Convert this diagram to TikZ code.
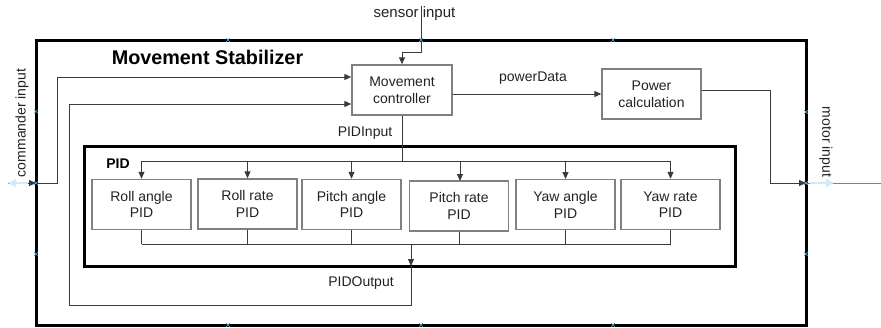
\documentclass[tikz,border=0pt]{standalone}
\usepackage{fontspec}
\setmainfont{Liberation Sans}
\usetikzlibrary{arrows.meta}
\definecolor{boxgray}{HTML}{808080}
\definecolor{linegray}{HTML}{3A3A3A}
\definecolor{txt}{HTML}{222222}
\definecolor{mark}{HTML}{4AA3D6}
\definecolor{ghost}{HTML}{D2EAF7}
\tikzset{
  blk/.style={draw=boxgray, line width=1.4pt, fill=white, inner sep=0pt, align=center,
    text=txt, font=\fontsize{14}{16.5}\selectfont, minimum width=99pt, minimum height=50pt},
  frame/.style={draw=black, line width=3pt, inner sep=0pt},
  conn/.style={draw=linegray, line width=1pt},
  arr/.style={conn, -{Triangle[length=7pt,width=6pt]}},
  lbl/.style={text=txt, font=\fontsize{14}{16.5}\selectfont, inner sep=0pt},
  cmark/.style={draw=mark, line width=0.7pt},
}
\begin{document}
\begin{tikzpicture}[x=1pt, y=-1pt]
\useasboundingbox (0,0) rectangle (881,327);
% frames
\node[frame, minimum width=770pt, minimum height=285pt] (stab) at (421,182.5) {};
\node[frame, minimum width=651pt, minimum height=120pt] (pidbox) at (409.5,206) {};
\node[font=\bfseries\fontsize{19.8}{22}\selectfont, inner sep=0pt] (title) at (207.5,57) {Movement Stabilizer};
\node[font=\bfseries\fontsize{14}{16}\selectfont, inner sep=0pt] (pidlbl) at (118,164) {PID};
% blocks
\node[blk, minimum width=100pt] (mc) at (402,90) {Movement\\controller};
\node[blk] (pc) at (651.5,94) {Power\\calculation};
\node[blk] (p1) at (141.5,204.5) {Roll angle\\PID};
\node[blk] (p2) at (247.5,204) {Roll rate\\PID};
\node[blk] (p3) at (351.5,204.5) {Pitch angle\\PID};
\node[blk] (p4) at (459,206) {Pitch rate\\PID};
\node[blk] (p5) at (565.5,204.7) {Yaw angle\\PID};
\node[blk] (p6) at (670.5,204.5) {Yaw rate\\PID};
% labels
\node[lbl, font=\fontsize{15}{17}\selectfont] (sensl) at (414.5,14) {sensor input};
\node[lbl] (pdl) at (533,78) {powerData};
\node[lbl] (pidin) at (365,133) {PIDInput};
\node[lbl] (pidout) at (361,283) {PIDOutput};
\node[lbl, rotate=90] (cmdl) at (22,123) {commander input};
\node[lbl, rotate=-90] (motl) at (826,142) {motor input};
% port coordinates
\coordinate (sens) at (421,6);
\coordinate (cmdext) at (8,183);
\coordinate (cmdin) at (36,183);
\coordinate (motin) at (806,183);
\coordinate (motext) at (881,183);
\coordinate (busin) at (402,161);
\coordinate (busout) at (411,244);
\coordinate (pidexit) at (411,266);
% sensor input
\draw[arr] (sens) -- (421,52) -| (mc.north);
% powerData
\draw[arr] (mc.east |- pc.west) -- (pc.west);
% power calc to motor
\draw[conn, boxgray] (motin) -- (motext);
\draw[conn, ghost, line width=2.5pt, -{Triangle[length=8pt,width=8pt]}] (810,183) -- (834,183);
\draw[arr] ([yshift=4pt]pc.east) -- (770,90) -- (770,183) -- (motin);
% commander input
\draw[conn, boxgray] (cmdext) -- (cmdin);
\draw[conn, ghost, line width=2.5pt, {Triangle[length=8pt,width=8pt]}-] (8,183) -- (30,183);
\draw[arr] (28,183) -- (cmdin);
\draw[arr] (cmdin) -- (57,183) -- (57,77) -- ([yshift=13pt]mc.west);
% PID input bus
\draw[conn] (mc.south) -- (busin);
\draw[conn] (141.5,161) -- (670.5,161);
\foreach \n in {p1,p2,p3,p5,p6} \draw[arr] (\n.north |- busin) -- (\n.north);
\draw[arr] (460,161) -- (460,181);
% PID output bus
\foreach \n in {p1,p2,p3,p4,p5,p6} \draw[conn] (\n.south) -- (\n.south |- busout);
\draw[conn] (141.5,244) -- (670.5,244);
\draw[arr] (busout) -- (pidexit);
\draw[arr] (pidexit) -- (411,305) -- (69,305) -- (69,104) -- ([yshift=-14pt]mc.west);
% connection point marks
\foreach \p in {(228,40),(421,40),(613,40),(36,111.5),(36,183),(36,254),(806,112),(806,183),(806,254),(228,325),(421,325),(613,325)}
  \draw[cmark] \p ++(-1.8,-1.8) -- ++(3.6,3.6) \p ++(-1.8,1.8) -- ++(3.6,-3.6);
\end{tikzpicture}
\end{document}
